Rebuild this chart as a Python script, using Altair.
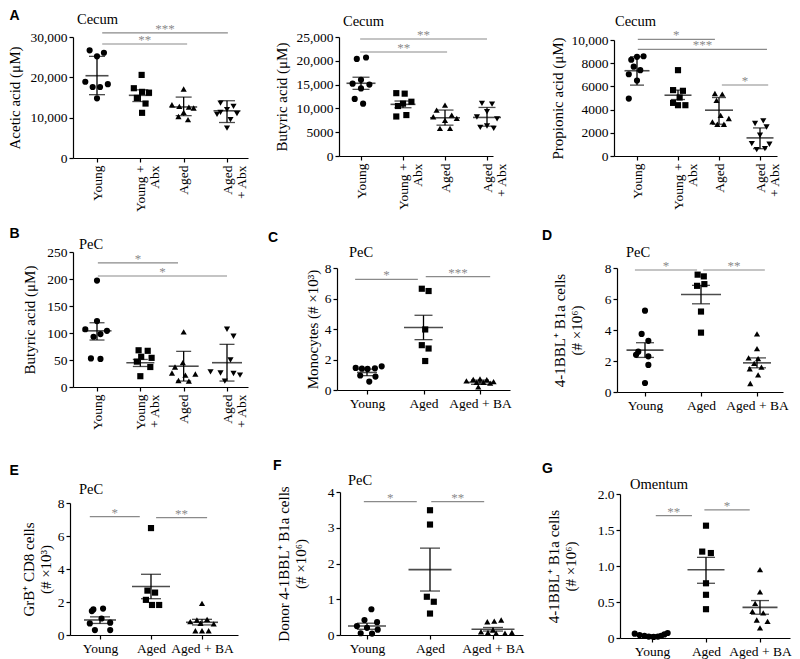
import json
import altair as alt
import pandas as pd

# ---------------- data ----------------
GROUPS_ABX = ["Young", "Young + Abx", "Aged", "Aged + Abx"]
GROUPS_BA = ["Young", "Aged", "Aged + BA"]
XLAB_A = ["Young", ["Young +", "Abx"], "Aged", ["Aged", "+ Abx"]]
XLAB_B = ["Young", ["Young", "+ Abx"], "Aged", ["Aged", "+ Abx"]]
XLAB_BA = ["Young", "Aged", "Aged + BA"]

# A1  Cecum acetic acid (uM)
A1_VALUES = [[26700, 26100, 25200, 18900, 18300, 17600, 17600, 14800],
             [20600, 17300, 16400, 16200, 14900, 13500, 11200],
             [17100, 13200, 12800, 12600, 12400, 11300, 10300, 9500],
             [13600, 12800, 12000, 11300, 11000, 10800, 9500, 7400]]
A1_JITTER = [[-0.17, 0.16, 0.0, -0.27, 0.25, -0.1, 0.07, 0.0],
             [0.03, -0.15, 0.04, 0.2, -0.08, 0.12, 0.04],
             [0.0, -0.27, -0.1, 0.12, 0.23, 0.0, -0.12, 0.1],
             [-0.15, 0.15, 0.0, -0.15, 0.23, -0.23, 0.08, 0.0]]
A1_MEAN = [20400, 15540, 12650, 11700]
A1_LO = [15700, 14000, 10500, 8800]
A1_HI = [25200, 16900, 15100, 14200]
A1_SIG = [[0.12, 2.08, 28260, "**"], [0.12, 3.02, 31000, "***"]]
A1_TICKS = [0, 10000, 20000, 30000]

# A2  Cecum butyric acid (uM)
A2_VALUES = [[20400, 20700, 16000, 15200, 15000, 14200, 12000, 11000],
             [13200, 13100, 11400, 11000, 10500, 8300, 8600],
             [10700, 9650, 8600, 8240, 7900, 7500, 5800, 5800],
             [11050, 10900, 9300, 8200, 7800, 6300, 6000, 5800]]
A2_JITTER = [[-0.1, 0.12, 0.0, -0.2, 0.2, 0.0, -0.15, 0.05],
             [-0.16, 0.04, 0.2, 0.0, -0.12, -0.16, 0.08],
             [0.0, -0.2, 0.16, -0.28, 0.28, 0.0, -0.12, 0.12],
             [-0.12, 0.12, 0.0, -0.24, 0.24, 0.0, -0.16, 0.16]]
A2_MEAN = [15280, 10850, 8030, 8100]
A2_LO = [14000, 10140, 6480, 6270]
A2_HI = [16550, 11550, 9650, 10200]
A2_SIG = [[-0.02, 2.05, 21850, "**"], [-0.02, 3.0, 24580, "**"]]
A2_TICKS = [0, 5000, 10000, 15000, 20000, 25000]

# A3  Cecum propionic acid (uM)
A3_VALUES = [[8300, 8550, 8600, 7700, 7400, 7050, 6500, 4950],
             [7400, 5680, 5620, 5040, 4580, 4380, 4380],
             [5390, 5330, 4800, 3500, 3230, 2940, 2740, 2740],
             [3030, 2800, 2500, 1790, 1070, 1010, 630, 550]]
A3_JITTER = [[-0.14, 0.0, 0.16, -0.08, 0.08, -0.2, 0.0, -0.2],
             [0.0, -0.12, 0.12, 0.04, -0.12, 0.0, 0.18],
             [-0.1, 0.08, -0.06, 0.04, 0.24, -0.16, -0.04, 0.12],
             [0.08, -0.12, 0.16, 0.0, -0.2, 0.23, 0.12, -0.08]]
A3_MEAN = [7350, 5240, 3950, 1560]
A3_LO = [6110, 4870, 2740, 630]
A3_HI = [8560, 5680, 5040, 2420]
A3_SIG = [[0.02, 1.9, 10060, "*"], [0.02, 3.17, 9200, "***"], [2.07, 3.2, 6120, "*"]]
A3_TICKS = [0, 2000, 4000, 6000, 8000, 10000]

# B  PeC butyric acid (uM)
B_VALUES = [[197, 122, 107, 104, 98, 93, 53, 52],
            [68, 67, 56, 54, 47, 37, 20],
            [102, 45, 37, 26, 24, 22, 12, 11],
            [107, 94, 50, 28, 26, 25, 22, 11]]
B_JITTER = [[0.0, 0.0, -0.27, 0.23, 0.08, -0.08, -0.14, 0.08],
            [-0.04, 0.17, 0.02, 0.26, -0.08, 0.23, 0.0],
            [0.0, -0.02, -0.2, -0.27, 0.27, 0.04, -0.12, 0.12],
            [0.0, 0.15, 0.08, -0.38, -0.15, 0.15, 0.3, -0.05]]
B_MEAN = [104, 45, 38.5, 45]
B_LO = [87, 38, 11, 11]
B_HI = [119, 51, 66, 79]
B_SIG = [[0.02, 1.87, 230, "*"], [0.02, 3.0, 205.6, "*"]]
B_TICKS = [0, 50, 100, 150, 200, 250]

# C  PeC monocytes (# x10^3)
C_VALUES = [[1.55, 1.45, 1.42, 1.4, 1.38, 0.95, 0.88, 0.55],
            [6.64, 6.49, 3.97, 2.94, 2.72, 1.9],
            [0.72, 0.7, 0.68, 0.6, 0.55, 0.5, 0.5, 0.45, 0.2]]
C_JITTER = [[0.26, -0.2, 0.14, -0.09, 0.01, -0.12, 0.15, 0.04],
            [-0.03, 0.09, 0.03, -0.03, 0.09, 0.03],
            [0.0, -0.12, 0.12, -0.24, 0.24, -0.06, 0.06, 0.18, -0.03]]
C_MEAN = [1.15, 4.1, 0.5]
C_LO = [0.94, 3.3, 0.37]
C_HI = [1.37, 4.9, 0.65]
C_SIG = [[-0.21, 0.9, 7.26, "*"], [1.04, 2.18, 7.43, "***"]]

# D  PeC 4-1BBL+ B1a cells (# x10^6)
D_VALUES = [[5.25, 3.75, 3.3, 2.6, 2.4, 2.3, 1.75, 0.58],
            [7.57, 7.46, 6.96, 6.85, 5.19, 3.83],
            [3.75, 2.8, 2.2, 2.15, 1.85, 1.6, 1.5, 1.1, 0.55]]
D_JITTER = [[0.0, -0.06, 0.06, -0.12, -0.16, 0.06, 0.06, 0.0],
            [-0.06, 0.05, 0.06, -0.07, 0.0, 0.0],
            [0.0, 0.0, -0.15, 0.02, -0.05, 0.08, -0.13, 0.02, -0.12]]
D_MEAN = [2.7, 6.29, 1.88]
D_LO = [2.23, 5.69, 1.56]
D_HI = [3.18, 6.88, 2.2]
D_SIG = [[-0.18, 0.93, 7.87, "*"], [1.04, 2.14, 7.87, "**"]]

# E  PeC GrB+ CD8 cells (# x10^3)
E_VALUES = [[1.6, 1.55, 1.45, 1.0, 0.75, 0.7, 0.3, 0.3],
            [6.48, 2.69, 2.57, 2.13, 1.82, 1.82],
            [1.92, 0.95, 0.91, 0.81, 0.71, 0.67, 0.26, 0.26, 0.26]]
E_JITTER = [[0.06, -0.13, -0.16, 0.03, 0.2, -0.2, -0.1, 0.2],
            [0.0, -0.07, 0.08, -0.1, 0.02, 0.16],
            [0.0, 0.1, -0.1, -0.23, -0.03, 0.23, -0.13, 0.0, 0.13]]
E_MEAN = [0.91, 2.94, 0.77]
E_LO = [0.7, 2.2, 0.61]
E_HI = [1.1, 3.68, 0.95]
E_SIG = [[-0.2, 0.78, 7.17, "*"], [1.1, 2.1, 7.11, "**"]]

# F  PeC donor 4-1BBL+ B1a cells (# x10^6)
F_VALUES = [[0.72, 0.42, 0.36, 0.25, 0.2, 0.15, 0.05, 0.04],
            [3.49, 3.09, 1.07, 0.93, 0.6],
            [0.42, 0.39, 0.37, 0.14, 0.09, 0.07, 0.07, 0.05, 0.05]]
F_JITTER = [[0.07, -0.04, 0.16, -0.16, 0.0, 0.17, -0.1, 0.08],
            [0.0, 0.0, -0.05, 0.06, 0.0],
            [0.13, 0.02, -0.09, 0.0, -0.19, -0.08, 0.3, 0.05, 0.19]]
F_MEAN = [0.25, 1.83, 0.16]
F_LO = [0.16, 1.23, 0.11]
F_HI = [0.33, 2.43, 0.21]
F_SIG = [[-0.05, 0.79, 3.73, "*"], [1.02, 1.86, 3.73, "**"]]

# G  Omentum 4-1BBL+ B1a cells (# x10^6)
G_VALUES = [[0.06, 0.04, 0.03, 0.02, 0.015, 0.02, 0.03, 0.05, 0.07],
            [1.56, 1.2, 1.18, 0.76, 0.6, 0.4],
            [0.95, 0.64, 0.48, 0.37, 0.35, 0.25, 0.23, 0.14]]
G_JITTER = [[-0.32, -0.23, -0.14, -0.06, 0.03, 0.11, 0.17, 0.23, 0.29],
            [0.0, -0.07, 0.09, 0.0, 0.0, 0.0],
            [0.0, 0.0, -0.09, -0.14, 0.06, -0.06, 0.14, 0.0]]
G_MEAN = [0.03, 0.947, 0.425]
G_LO = [0.02, 0.76, 0.33]
G_HI = [0.045, 1.12, 0.52]
G_SIG = [[0.07, 0.74, 1.70, "**"], [0.97, 1.81, 1.78, "*"]]

TICKS_8 = [0, 2, 4, 6, 8]
TICKS_4 = [0, 1, 2, 3, 4]
TICKS_2 = [0, 0.5, 1.0, 1.5, 2.0]

# ---------------- layout / style ----------------
M = 8
W, H = 784, 651
SERIF = "Liberation Serif"
SANS = "Liberation Sans"
GRAY = "#8a8a8a"
SHAPES_ABX = ["circle", "square", "triangle-up", "triangle-down"]
SHAPES_BA = ["circle", "square", "triangle-up"]

FMT_COMMA = "format(datum.value, ',')"
FMT_BIG = "datum.value >= 10000 ? format(datum.value, ',') : format(datum.value, 'd')"
FMT_INT = "format(datum.value, 'd')"
FMT_DEC = "datum.value == 0 ? '0' : format(datum.value, '.1f')"


def label_expr(labels):
    out = ""
    for i, lab in enumerate(labels[:-1]):
        out += f"datum.value == {i} ? {json.dumps(lab)} : "
    return out + json.dumps(labels[-1])


def make_panel(lay, shapes, xlabels, values, jitter, mean, lo, hi, sig, yticks, ytitle):
    n = len(shapes)
    step = (lay["c_last"] - lay["c_first"]) / (n - 1)
    dom_l = -(lay["c_first"] - lay["left"]) / step
    dom_r = (n - 1) + (lay["right"] - lay["c_last"]) / step

    def xs():
        return alt.Scale(domain=[dom_l, dom_r], range=[lay["left"] - M, lay["right"] - M],
                         nice=False, zero=False)

    def ys():
        return alt.Scale(domain=[0, yticks[-1]], range=[lay["y0"] - M, lay["ytop"] - M],
                         nice=False, zero=False)

    rows = []
    for gi in range(n):
        for v, j in zip(values[gi], jitter[gi]):
            rows.append({"x": gi + j, "v": v, "shp": shapes[gi]})
    pdf = pd.DataFrame(rows)
    sdf = pd.DataFrame({"g": list(range(n)), "m": mean, "lo": lo, "hi": hi,
                        "mw": lay["mean_w"], "cw": [lay["cap_w"]] * n})
    gdf = pd.DataFrame({"s": [s[0] for s in sig], "e": [s[1] for s in sig],
                        "lvl": [s[2] for s in sig], "lab": [s[3] for s in sig]})
    gdf["mid"] = (gdf["s"] + gdf["e"]) / 2

    rot = lay["rotate"]
    xaxis = alt.Axis(orient="bottom", offset=(lay["y0"] - M) - H, values=list(range(n)),
                     labelExpr=label_expr(xlabels), title=None,
                     labelAngle=270 if rot else 0,
                     labelAlign="right" if rot else "center",
                     labelBaseline="middle" if rot else "top",
                     labelPadding=3 if rot else 2)
    yaxis = alt.Axis(orient="left", offset=-(lay["left"] - M), values=yticks,
                     labelExpr=lay["ylab"], title=ytitle, titlePadding=lay["tpad"])

    def X(f):
        return alt.X(f, scale=xs(), axis=None)

    def Y(f):
        return alt.Y(f, scale=ys(), axis=None)

    pts = alt.Chart(pdf).mark_point(filled=True, color="black", opacity=1, size=38,
                                    strokeWidth=0).encode(
        x=alt.X("x:Q", scale=xs(), axis=xaxis),
        y=alt.Y("v:Q", scale=ys(), axis=yaxis),
        shape=alt.Shape("shp:N", scale=None),
    )
    err = alt.Chart(sdf).mark_rule(color="black", strokeWidth=1.3).encode(
        x=X("g:Q"), y=Y("lo:Q"), y2="hi:Q")
    cap_lo = alt.Chart(sdf).mark_tick(orient="horizontal", thickness=1.3, color="black").encode(
        x=X("g:Q"), y=Y("lo:Q"), size=alt.Size("cw:Q", scale=None))
    cap_hi = alt.Chart(sdf).mark_tick(orient="horizontal", thickness=1.3, color="black").encode(
        x=X("g:Q"), y=Y("hi:Q"), size=alt.Size("cw:Q", scale=None))
    mean_l = alt.Chart(sdf).mark_tick(orient="horizontal", thickness=1.6, color="black").encode(
        x=X("g:Q"), y=Y("m:Q"), size=alt.Size("mw:Q", scale=None))
    sig_r = alt.Chart(gdf).mark_rule(color=GRAY, strokeWidth=1.2).encode(
        x=X("s:Q"), x2="e:Q", y=Y("lvl:Q"))
    sig_t = alt.Chart(gdf).mark_text(font=SERIF, fontSize=13, color=GRAY,
                                     baseline="alphabetic", align="center").encode(
        x=X("mid:Q"), y=Y("lvl:Q"), text="lab:N")
    layers = [pts, err, cap_lo, cap_hi, mean_l, sig_r, sig_t]

    tx, ty, ttext = lay["title"]
    layers.append(alt.Chart(pd.DataFrame({"t": [ttext]})).mark_text(
        font=SERIF, fontSize=14.5, color="black", align="left", baseline="alphabetic").encode(
        x=alt.value(tx - M), y=alt.value(ty - M), text="t:N"))
    if lay.get("letter"):
        lx, ly, ltext = lay["letter"]
        layers.append(alt.Chart(pd.DataFrame({"t": [ltext]})).mark_text(
            font=SANS, fontSize=14, fontWeight="bold", color="black", align="left",
            baseline="alphabetic").encode(
            x=alt.value(max(lx - M, 1.5)), y=alt.value(ly - M), text="t:N"))
    return layers


LAY = {
    "A1": dict(left=73, right=248, c_first=97, c_last=227, y0=158, ytop=37, rotate=True,
               ylab=FMT_COMMA, tpad=7, mean_w=[23, 23, 27, 27], cap_w=16,
               title=(77, 24, "Cecum"), letter=(3, 20, "A")),
    "A2": dict(left=339, right=493, c_first=361, c_last=487, y0=156, ytop=37, rotate=True,
               ylab=FMT_BIG, tpad=6, mean_w=[29, 25, 30, 28], cap_w=17,
               title=(343, 26, "Cecum")),
    "A3": dict(left=614, right=777, c_first=637, c_last=760, y0=156, ytop=40, rotate=True,
               ylab=FMT_BIG, tpad=5, mean_w=[25, 27, 28, 27], cap_w=14,
               title=(615, 26, "Cecum")),
    "B": dict(left=73, right=248, c_first=97, c_last=227, y0=387, ytop=252, rotate=True,
              ylab=FMT_INT, tpad=9, mean_w=[29, 28, 30, 30], cap_w=15,
              title=(79, 249, "PeC"), letter=(3, 238, "B")),
    "C": dict(left=337, right=510, c_first=367, c_last=480, y0=390, ytop=268, rotate=False,
              ylab=FMT_INT, tpad=4, mean_w=[20, 39, 24], cap_w=18,
              title=(349, 257, "PeC"), letter=(268, 242, "C")),
    "D": dict(left=617, right=783, c_first=645, c_last=757, y0=392, ytop=268, rotate=False,
              ylab=FMT_INT, tpad=20, mean_w=[37, 40, 28], cap_w=18,
              title=(626, 257, "PeC"), letter=(542, 240, "D")),
    "E": dict(left=70, right=238, c_first=100, c_last=202, y0=635, ytop=503, rotate=False,
              ylab=FMT_INT, tpad=4, mean_w=[32, 38, 32], cap_w=20,
              title=(79, 494, "PeC"), letter=(2, 475, "E")),
    "F": dict(left=340, right=523, c_first=367, c_last=493, y0=635, ytop=492, rotate=False,
              ylab=FMT_INT, tpad=19, mean_w=[38, 43, 43], cap_w=20,
              title=(348, 485, "PeC"), letter=(273, 470, "F")),
    "G": dict(left=620, right=790, c_first=652, c_last=760, y0=638, ytop=494, rotate=False,
              ylab=FMT_DEC, tpad=19, mean_w=[28, 37, 35], cap_w=18,
              title=(630, 489, "Omentum"), letter=(542, 473, "G")),
}

layers = []
layers += make_panel(LAY["A1"], SHAPES_ABX, XLAB_A, A1_VALUES, A1_JITTER, A1_MEAN, A1_LO,
                     A1_HI, A1_SIG, A1_TICKS, "Acetic acid (μM)")
layers += make_panel(LAY["A2"], SHAPES_ABX, XLAB_A, A2_VALUES, A2_JITTER, A2_MEAN, A2_LO,
                     A2_HI, A2_SIG, A2_TICKS, "Butyric acid (μM)")
layers += make_panel(LAY["A3"], SHAPES_ABX, XLAB_A, A3_VALUES, A3_JITTER, A3_MEAN, A3_LO,
                     A3_HI, A3_SIG, A3_TICKS, "Propionic acid (μM)")
layers += make_panel(LAY["B"], SHAPES_ABX, XLAB_B, B_VALUES, B_JITTER, B_MEAN, B_LO, B_HI,
                     B_SIG, B_TICKS, "Butyric acid (μM)")
layers += make_panel(LAY["C"], SHAPES_BA, XLAB_BA, C_VALUES, C_JITTER, C_MEAN, C_LO, C_HI,
                     C_SIG, TICKS_8, "Monocytes (# ×10³)")
layers += make_panel(LAY["D"], SHAPES_BA, XLAB_BA, D_VALUES, D_JITTER, D_MEAN, D_LO, D_HI,
                     D_SIG, TICKS_8, ["4-1BBL⁺ B1a cells", "(# ×10⁶)"])
layers += make_panel(LAY["E"], SHAPES_BA, XLAB_BA, E_VALUES, E_JITTER, E_MEAN, E_LO, E_HI,
                     E_SIG, TICKS_8, ["GrB⁺ CD8 cells", "(# ×10³)"])
layers += make_panel(LAY["F"], SHAPES_BA, XLAB_BA, F_VALUES, F_JITTER, F_MEAN, F_LO, F_HI,
                     F_SIG, TICKS_4, ["Donor 4-1BBL⁺ B1a cells", "(# ×10⁶)"])
layers += make_panel(LAY["G"], SHAPES_BA, XLAB_BA, G_VALUES, G_JITTER, G_MEAN, G_LO, G_HI,
                     G_SIG, TICKS_2, ["4-1BBL⁺ B1a cells", "(# ×10⁶)"])

chart = alt.layer(*layers).resolve_scale(
    x="independent", y="independent"
).properties(
    width=W, height=H, padding=0, autosize=alt.AutoSizeParams(type="none"),
    background="white",
).configure_view(stroke=None).configure_axis(
    labelFont=SERIF, labelFontSize=13.5, labelColor="black",
    titleFont=SERIF, titleFontSize=15, titleFontWeight="normal", titleColor="black",
    titleLineHeight=17, labelLineHeight=14,
    domainColor="black", domainWidth=1.2, tickColor="black", tickWidth=1.2, tickSize=4,
    grid=False, labelOverlap=False, labelFlush=False,
)

chart.save("out.html", embed_options={"renderer": "svg", "actions": False})
